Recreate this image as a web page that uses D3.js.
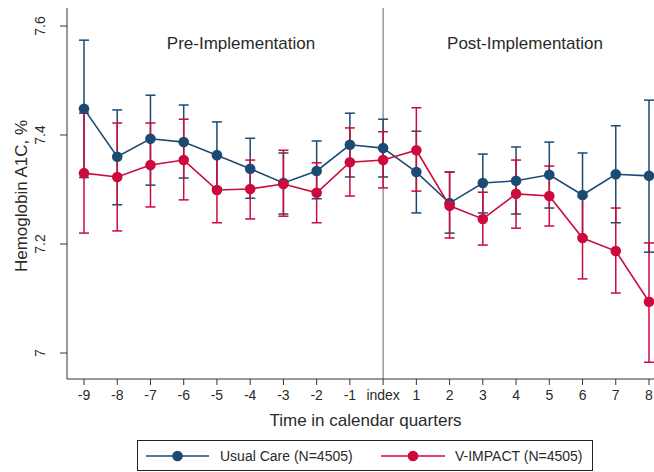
<!DOCTYPE html>
<meta charset="utf-8" />
<script src="https://d3js.org/d3.v7.min.js"></script>
<style>
  body { margin: 0; background: #fff; }
  text { font-family: 'Liberation Sans', Arial, Helvetica, sans-serif; fill: #2a2a2a; }
</style>
<div id="my_dataviz"></div>
<script>
  // quarters relative to implementation
  const quarters = ['-9', '-8', '-7', '-6', '-5', '-4', '-3', '-2', '-1', 'index', '1', '2', '3', '4', '5', '6', '7', '8'];
  const yTicks = [7, 7.2, 7.4, 7.6];

  // Usual Care: mean, lower CI, upper CI
  const usualMean = [7.448, 7.360, 7.393, 7.387, 7.363, 7.338, 7.312, 7.334, 7.382, 7.376, 7.332, 7.275, 7.312, 7.316, 7.327, 7.290, 7.328, 7.325];
  const usualLow  = [7.322, 7.272, 7.308, 7.321, 7.303, 7.284, 7.255, 7.283, 7.323, 7.323, 7.257, 7.220, 7.257, 7.255, 7.266, 7.213, 7.239, 7.185];
  const usualHigh = [7.574, 7.446, 7.473, 7.455, 7.424, 7.394, 7.367, 7.389, 7.440, 7.429, 7.407, 7.332, 7.365, 7.378, 7.387, 7.367, 7.417, 7.464];

  // V-IMPACT: mean, lower CI, upper CI
  const vimpMean = [7.330, 7.323, 7.345, 7.354, 7.299, 7.301, 7.310, 7.294, 7.350, 7.354, 7.372, 7.270, 7.246, 7.292, 7.288, 7.211, 7.187, 7.094];
  const vimpLow  = [7.220, 7.224, 7.268, 7.281, 7.239, 7.246, 7.251, 7.239, 7.288, 7.303, 7.297, 7.211, 7.198, 7.229, 7.233, 7.136, 7.110, 6.983];
  const vimpHigh = [7.440, 7.422, 7.422, 7.429, 7.360, 7.354, 7.372, 7.349, 7.413, 7.406, 7.450, 7.332, 7.295, 7.354, 7.343, 7.286, 7.266, 7.202];

  const seriesNames = ['Usual Care (N=4505)', 'V-IMPACT (N=4505)'];
  const colors = ['#1b4a72', '#cc0a3c'];

  const width = 654, height = 472;
  const plotLeft = 67, plotTop = 8, plotBottom = 379;

  const svg = d3.select('#my_dataviz')
    .append('svg')
    .attr('width', width)
    .attr('height', height);

  const x = d3.scalePoint().domain(quarters).range([84, 649]);
  const y = d3.scaleLinear().domain([7, 7.6]).range([353, 26]);

  const series = [
    { name: seriesNames[0], color: colors[0], mean: usualMean, low: usualLow, high: usualHigh },
    { name: seriesNames[1], color: colors[1], mean: vimpMean, low: vimpLow, high: vimpHigh }
  ];

  // axes
  svg.append('line')
    .attr('x1', plotLeft).attr('x2', plotLeft)
    .attr('y1', plotTop).attr('y2', plotBottom)
    .attr('stroke', '#333').attr('stroke-width', 1);
  svg.append('line')
    .attr('x1', plotLeft).attr('x2', width)
    .attr('y1', plotBottom).attr('y2', plotBottom)
    .attr('stroke', '#333').attr('stroke-width', 1);

  // y ticks, rotated labels
  svg.selectAll('.ytick').data(yTicks).join('line')
    .attr('x1', plotLeft - 7).attr('x2', plotLeft)
    .attr('y1', d => y(d)).attr('y2', d => y(d))
    .attr('stroke', '#333');
  svg.selectAll('.ylab').data(yTicks).join('text')
    .attr('transform', d => `translate(45, ${y(d)}) rotate(-90)`)
    .attr('text-anchor', 'middle')
    .style('font-size', '14px')
    .text(d => d3.format('~g')(d));

  // x ticks
  svg.selectAll('.xtick').data(quarters).join('line')
    .attr('x1', d => x(d)).attr('x2', d => x(d))
    .attr('y1', plotBottom).attr('y2', plotBottom + 6)
    .attr('stroke', '#333');
  svg.selectAll('.xlab').data(quarters).join('text')
    .attr('x', d => x(d))
    .attr('y', 400)
    .attr('text-anchor', 'middle')
    .style('font-size', '14px')
    .text(d => d);

  // axis titles
  svg.append('text')
    .attr('x', (plotLeft + width) / 2 + 5)
    .attr('y', 426)
    .attr('text-anchor', 'middle')
    .style('font-size', '17px')
    .text('Time in calendar quarters');
  svg.append('text')
    .attr('transform', 'translate(27, 196) rotate(-90)')
    .attr('text-anchor', 'middle')
    .style('font-size', '17px')
    .text('Hemoglobin A1C, %');

  // implementation line at index
  svg.append('line')
    .attr('x1', x('index')).attr('x2', x('index'))
    .attr('y1', plotTop).attr('y2', plotBottom)
    .attr('stroke', '#666').attr('stroke-width', 1);

  // period labels
  svg.append('text')
    .attr('x', 241).attr('y', 49)
    .attr('text-anchor', 'middle')
    .style('font-size', '17px')
    .text('Pre-Implementation');
  svg.append('text')
    .attr('x', 525).attr('y', 49)
    .attr('text-anchor', 'middle')
    .style('font-size', '17px')
    .text('Post-Implementation');

  // error bars (caps) for both series
  series.forEach(s => {
    const g = svg.append('g').attr('stroke', s.color).attr('stroke-width', 1.5);
    quarters.forEach((q, i) => {
      const cx = x(q);
      g.append('line').attr('x1', cx).attr('x2', cx).attr('y1', y(s.low[i])).attr('y2', y(s.high[i]));
      g.append('line').attr('x1', cx - 5).attr('x2', cx + 5).attr('y1', y(s.low[i])).attr('y2', y(s.low[i]));
      g.append('line').attr('x1', cx - 5).attr('x2', cx + 5).attr('y1', y(s.high[i])).attr('y2', y(s.high[i]));
    });
  });

  // connected lines with markers
  const line = d3.line().x((d, i) => x(quarters[i])).y(d => y(d));
  series.forEach(s => {
    svg.append('path')
      .datum(s.mean)
      .attr('d', line)
      .attr('fill', 'none')
      .attr('stroke', s.color)
      .attr('stroke-width', 1.6);
    svg.append('g').selectAll('circle').data(s.mean).join('circle')
      .attr('cx', (d, i) => x(quarters[i]))
      .attr('cy', d => y(d))
      .attr('r', 5.3)
      .attr('fill', s.color);
  });

  // legend
  const legend = svg.append('g');
  legend.append('rect')
    .attr('x', 137.5).attr('y', 440.5)
    .attr('width', 455).attr('height', 30)
    .attr('fill', 'white').attr('stroke', '#222');
  const legendItems = [
    { x0: 146, x1: 209, tx: 220 },
    { x0: 381, x1: 445, tx: 455 }
  ];
  legendItems.forEach((it, i) => {
    legend.append('line')
      .attr('x1', it.x0).attr('x2', it.x1)
      .attr('y1', 456).attr('y2', 456)
      .attr('stroke', series[i].color).attr('stroke-width', 1.6);
    legend.append('circle')
      .attr('cx', (it.x0 + it.x1) / 2).attr('cy', 456).attr('r', 5.3)
      .attr('fill', series[i].color);
    legend.append('text')
      .attr('x', it.tx).attr('y', 461)
      .style('font-size', '14px')
      .text(series[i].name);
  });
</script>
